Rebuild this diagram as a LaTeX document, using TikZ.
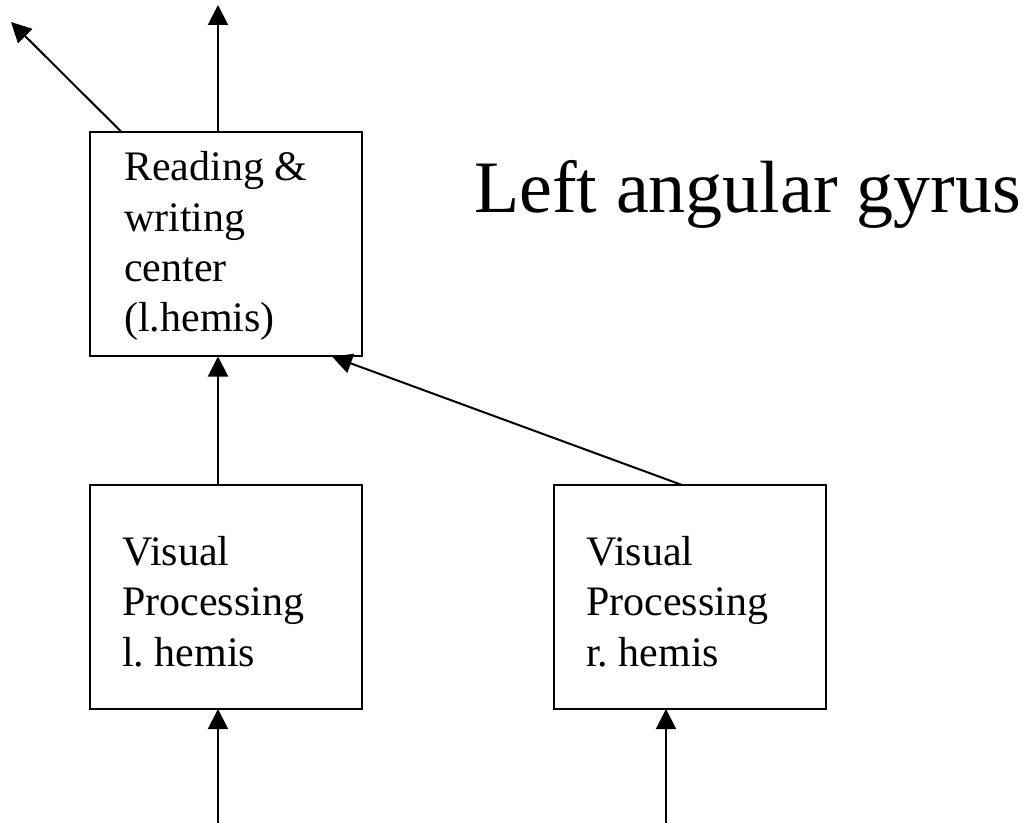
\documentclass[tikz,border=0pt]{standalone}
\usepackage{fontspec}
\setmainfont{Liberation Serif}
\usetikzlibrary{arrows.meta,calc}
\frenchspacing
\tikzset{
  boxnode/.style={draw, line width=1.5pt, inner sep=0pt, outer sep=0pt, minimum width=204pt, minimum height=168pt},
  boxtext/.style={anchor=base west, inner sep=0pt, align=left, font=\fontsize{31.5pt}{37.8pt}\selectfont},
  conn/.style={line width=1.5pt, -{Triangle[length=15pt,width=15pt]}},
}
\begin{document}
\begin{tikzpicture}[x=0.75pt,y=-0.75pt]
\useasboundingbox (0,0) rectangle (1031,823);
% boxes
\node[boxnode] (top) at (226,244.5) {};
\node[boxnode] (vl) at (226,597) {};
\node[boxnode, minimum width=204pt] (vr) at (690,597) {};
% texts (anchored at the baseline of the last line)
\node[boxtext] (ttop) at (124,332) {Reading \&\\writing\\center\\(l.hemis)};
\node[boxtext] (tvl) at (122,666) {Visual\\Processing\\l. hemis};
\node[boxtext] (tvr) at (586,666) {Visual\\Processing\\r. hemis};
\node[anchor=base west, inner sep=0pt, font=\fontsize{55.5pt}{66pt}\selectfont] (title) at (474,213) {Left angular gyrus};
% free ends
\coordinate (out1) at (11,22);
\coordinate (out2) at (218,5);
\coordinate (in1) at (218,823);
\coordinate (in2) at (666,823);
% connectors
\draw[conn] ($(top.north west)+(32,0)$) -- (out1);
\draw[conn] ($(top.north west)+(128,0)$) -- (out2);
\draw[conn] ($(vl.north west)+(128,0)$) -- ($(top.south west)+(128,0)$);
\draw[conn] ($(vr.north west)+(128,0)$) -- ($(top.south west)+(242,0)$);
\draw[conn] (in1) -- ($(vl.south west)+(128,0)$);
\draw[conn] (in2) -- ($(vr.south west)+(112,0)$);
\end{tikzpicture}
\end{document}
